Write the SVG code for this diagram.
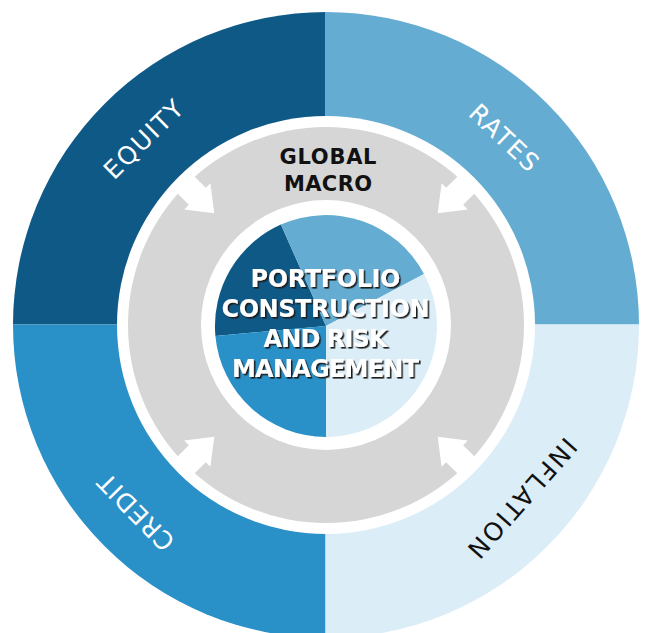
<svg xmlns="http://www.w3.org/2000/svg" width="649" height="633" viewBox="0 0 649 633">
  <defs>
    <clipPath id="outerClip">
      <circle cx="326" cy="325" r="313"/>
    </clipPath>
    <filter id="shadow" x="-10%" y="-30%" width="120%" height="160%">
      <feDropShadow dx="1.6" dy="1.6" stdDeviation="0.4" flood-color="#1a1a1a" flood-opacity="1"/>
    </filter>
    <polygon id="arrow" points="-158,0 -182,-18.5 -182,-12 -203,-12 -203,12 -182,12 -182,18.5"/>
  </defs>
  <style>
    .outer { font-family: "DejaVu Sans", "Liberation Sans", sans-serif; font-size: 25px; font-weight: normal; text-anchor: middle; }
    .center { font-family: "DejaVu Sans", "Liberation Sans", sans-serif; font-size: 24px; font-weight: bold; fill: #ffffff; text-anchor: middle; filter: url(#shadow); }
    .macro { font-family: "DejaVu Sans", "Liberation Sans", sans-serif; font-size: 21px; font-weight: bold; fill: #111111; text-anchor: middle; }
    .c-dark { fill: #0f5987; }
    .c-light { fill: #65acd2; }
    .c-mid { fill: #2a90c8; }
    .c-pale { fill: #dbedf6; }
    .arrow { fill: #ffffff; }
  </style>

  <rect width="649" height="633" fill="#ffffff"/>

  <g id="equity">
    <rect class="c-dark" x="0" y="0" width="325.5" height="324.5" clip-path="url(#outerClip)"/>
    <text class="outer" fill="#ffffff" transform="translate(143.3,139.2) rotate(-44.5)" x="0" y="9" textLength="100" lengthAdjust="spacing">EQUITY</text>
  </g>
  <g id="rates">
    <rect class="c-light" x="325.5" y="0" width="323.5" height="324.5" clip-path="url(#outerClip)"/>
    <text class="outer" fill="#ffffff" transform="translate(504.2,137.5) rotate(43.5)" x="0" y="9" textLength="85" lengthAdjust="spacing">RATES</text>
  </g>
  <g id="credit">
    <rect class="c-mid" x="0" y="324.5" width="325.5" height="308.5" clip-path="url(#outerClip)"/>
    <text class="outer" fill="#ffffff" transform="translate(135.8,512.3) rotate(225.5)" x="0" y="9" textLength="97" lengthAdjust="spacing">CREDIT</text>
  </g>
  <g id="inflation">
    <rect class="c-pale" x="325.5" y="324.5" width="323.5" height="308.5" clip-path="url(#outerClip)"/>
    <text class="outer" fill="#111111" transform="translate(522.5,498.3) rotate(131.4)" x="0" y="9" textLength="150" lengthAdjust="spacing">INFLATION</text>
  </g>

  <g id="global-macro">
    <circle cx="326" cy="325" r="209" fill="#ffffff"/>
    <circle cx="326" cy="325" r="198" fill="#d6d6d6"/>
    <circle cx="326" cy="325" r="125" fill="#ffffff"/>
    <text class="macro" x="328" y="164" textLength="97" lengthAdjust="spacing">GLOBAL</text>
    <text class="macro" x="328" y="191" textLength="88" lengthAdjust="spacing">MACRO</text>
  </g>

  <g id="connectors">
    <use href="#arrow" class="arrow" transform="translate(326,325) rotate(45)"/>
    <use href="#arrow" class="arrow" transform="translate(326,325) rotate(135)"/>
    <use href="#arrow" class="arrow" transform="translate(326,325) rotate(225)"/>
    <use href="#arrow" class="arrow" transform="translate(326,325) rotate(-45)"/>
  </g>

  <g id="portfolio">
    <path class="c-dark" d="M326,326 L215.4,336 A111,111 0 0 1 280.9,224.6 Z"/>
    <path class="c-light" d="M326,326 L280.9,224.6 A111,111 0 0 1 424,273.9 Z"/>
    <path class="c-pale" d="M326,326 L424,273.9 A111,111 0 0 1 326,437 Z"/>
    <path class="c-mid" d="M326,326 L326,437 A111,111 0 0 1 215.4,336 Z"/>
    <text class="center" x="325.5" y="287" textLength="150" lengthAdjust="spacing">PORTFOLIO</text>
    <text class="center" x="325.5" y="317" textLength="208" lengthAdjust="spacing">CONSTRUCTION</text>
    <text class="center" x="325.5" y="347" textLength="124" lengthAdjust="spacing">AND RISK</text>
    <text class="center" x="325.5" y="377" textLength="187" lengthAdjust="spacing">MANAGEMENT</text>
  </g>
</svg>
